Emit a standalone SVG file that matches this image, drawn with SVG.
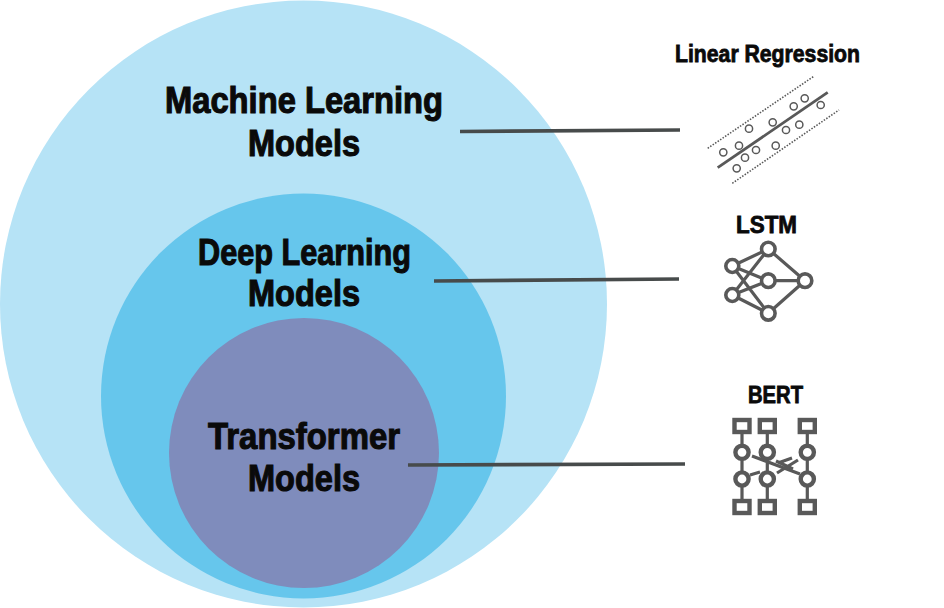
<svg xmlns="http://www.w3.org/2000/svg" width="944" height="608" viewBox="0 0 944 608">
<style>
text{font-family:"Liberation Sans",Arial,sans-serif;font-weight:700;fill:#0a0a0a;stroke:#0a0a0a}
.big{font-size:36px;stroke-width:1.1px}
.small{font-size:23px;stroke-width:.8px}
.conn{stroke:#474b4b;stroke-width:3.6;fill:none}
.ic{stroke:#595959;fill:none}
.pt{stroke:#595959;stroke-width:1.5;fill:none}
.nn{stroke:#595959;stroke-width:3.6;fill:#fff}
.ln{stroke:#595959;stroke-width:3.200;fill:none}
.br{stroke:#595959;stroke-width:4.400;fill:#fff}
</style>
<rect width="944" height="608" fill="#fff"/>
<g id="node-ml"><circle cx="303.500" cy="304" r="303.500" fill="#b6e3f6"/>
<text class="big" x="165" y="113" textLength="278" lengthAdjust="spacingAndGlyphs">Machine Learning</text>
<text class="big" x="248" y="156" textLength="112" lengthAdjust="spacingAndGlyphs">Models</text></g>
<g id="node-dl"><circle cx="303.500" cy="396" r="202.500" fill="#66c6ec"/>
<text class="big" x="198" y="265" textLength="213" lengthAdjust="spacingAndGlyphs">Deep Learning</text>
<text class="big" x="248" y="306" textLength="112" lengthAdjust="spacingAndGlyphs">Models</text></g>
<g id="node-tf"><circle cx="304" cy="453" r="135" fill="#7f8cbc"/>
<text class="big" x="208" y="449" textLength="192" lengthAdjust="spacingAndGlyphs">Transformer</text>
<text class="big" x="248" y="491" textLength="112" lengthAdjust="spacingAndGlyphs">Models</text></g>
<g id="connectors">
<path class="conn" d="M460 131.500L680 130"/>
<path class="conn" d="M434 281L679 279"/>
<path class="conn" d="M408 465L685 464"/>
</g>
<g id="node-lr">
<text class="small" x="675" y="62" textLength="185" lengthAdjust="spacingAndGlyphs">Linear Regression</text>
<path d="M717.700 167.700L827.700 92.300" class="ic" stroke-width="2.800"/>
<path d="M707.700 148.300L814.300 76M732.300 183.300L839 110" class="ic" stroke-width="1.600" stroke-dasharray="1.500 1.500"/>
<g class="pt">
<circle cx="723.300" cy="152.300" r="3.600"/><circle cx="739" cy="145.700" r="3.600"/><circle cx="749" cy="128.700" r="3.600"/><circle cx="745" cy="157.700" r="3.600"/><circle cx="756" cy="150" r="3.600"/><circle cx="736.700" cy="168.300" r="3.600"/><circle cx="772.700" cy="122.300" r="3.600"/><circle cx="775.700" cy="145.700" r="3.600"/><circle cx="786" cy="130" r="3.600"/><circle cx="799.300" cy="124.700" r="3.600"/><circle cx="793.700" cy="106.300" r="3.600"/><circle cx="804.700" cy="98.300" r="3.600"/><circle cx="820.700" cy="105" r="3.600"/>
</g></g>
<g id="node-lstm">
<text class="small" x="736" y="233" textLength="61" lengthAdjust="spacingAndGlyphs">LSTM</text>
<path class="ln" d="M732.300 266L768.300 249M732.300 266L768.300 280.700M732.300 266L768.300 313.300M732.300 295L768.300 249M732.300 295L768.300 280.700M732.300 295L768.300 313.300M768.300 249L805 280.700M768.300 280.700L805 280.700M768.300 313.300L805 280.700"/>
<circle class="nn" cx="732.300" cy="266" r="6.500"/><circle class="nn" cx="732.300" cy="295" r="6.500"/><circle class="nn" cx="768.300" cy="249" r="6.800"/><circle class="nn" cx="768.300" cy="280.700" r="6.800"/><circle class="nn" cx="768.300" cy="313.300" r="6.800"/><circle class="nn" cx="805" cy="280.700" r="6.800"/>
</g>
<g id="node-bert">
<text class="small" x="748" y="403" textLength="55" lengthAdjust="spacingAndGlyphs">BERT</text>
<path class="ln" d="M742 426V507M767.300 426V507M807.300 426V507M752 456L800 474M750 475L760 472"/>
<path class="ln" stroke-width="3" d="M778 463L792 458M777 473L798 460M776 461L793 469"/>
<g class="br">
<rect x="734.500" y="420" width="15" height="12"/><rect x="759.800" y="420" width="15" height="12"/><rect x="799.800" y="420" width="15" height="12"/>
<rect x="734.500" y="501" width="15" height="12"/><rect x="759.800" y="501" width="15" height="12"/><rect x="799.800" y="501" width="15" height="12"/>
<circle cx="742" cy="452.300" r="6.600"/><circle cx="767.300" cy="452.300" r="6.600"/><circle cx="807.300" cy="452.300" r="6.600"/>
<circle cx="742" cy="479" r="6.600"/><circle cx="767.300" cy="479" r="6.600"/><circle cx="807.300" cy="479" r="6.600"/>
</g></g>
</svg>
